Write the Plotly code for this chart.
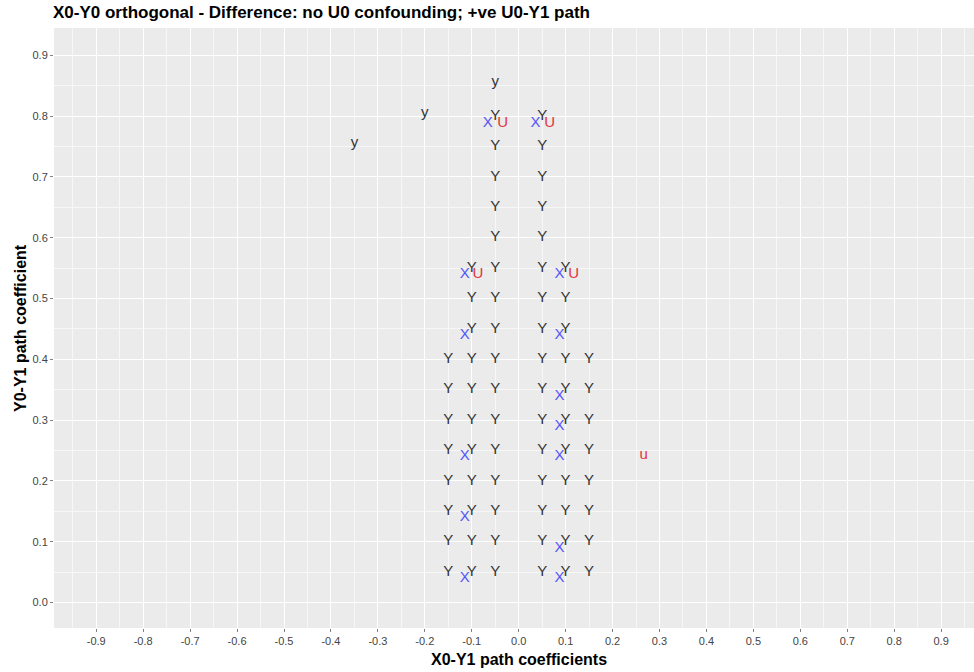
import plotly.graph_objects as go

# ---- data -------------------------------------------------------------
# Capital "Y" marks, laid out as rows (y level) with the x columns present in each row
ROW_LEVELS = [0.05, 0.10, 0.15, 0.20, 0.25, 0.30, 0.35, 0.40,
              0.45, 0.50, 0.55,
              0.60, 0.65, 0.70, 0.75, 0.80]
WIDE_COLS = [-0.15, -0.10, -0.05, 0.05, 0.10, 0.15]
MID_COLS = [-0.10, -0.05, 0.05, 0.10]
NARROW_COLS = [-0.05, 0.05]
ROW_COLUMNS = [WIDE_COLS] * 8 + [MID_COLS] * 3 + [NARROW_COLS] * 5

# Lowercase "y" marks
small_y_x = [-0.35, -0.20, -0.05]
small_y_y = [0.755, 0.805, 0.855]

# Blue "X" marks
x_mark_x = [-0.066, 0.036, -0.115, 0.087, -0.115, 0.087, 0.087,
            0.087, -0.115, 0.087, -0.115, 0.087, -0.115, 0.087]
x_mark_y = [0.788, 0.788, 0.540, 0.540, 0.440, 0.440, 0.340,
            0.290, 0.240, 0.240, 0.140, 0.090, 0.040, 0.040]

# Red "U" marks
u_mark_x = [-0.034, 0.066, -0.087, 0.117]
u_mark_y = [0.788, 0.788, 0.540, 0.540]

# Lowercase red "u"
small_u_x = [0.266]
small_u_y = [0.242]

# Axis ticks
x_tick_vals = [-0.9, -0.8, -0.7, -0.6, -0.5, -0.4, -0.3, -0.2, -0.1, 0.0,
               0.1, 0.2, 0.3, 0.4, 0.5, 0.6, 0.7, 0.8, 0.9]
x_tick_text = ["-0.9", "-0.8", "-0.7", "-0.6", "-0.5", "-0.4", "-0.3", "-0.2", "-0.1", "0.0",
               "0.1", "0.2", "0.3", "0.4", "0.5", "0.6", "0.7", "0.8", "0.9"]
y_tick_vals = [0.0, 0.1, 0.2, 0.3, 0.4, 0.5, 0.6, 0.7, 0.8, 0.9]
y_tick_text = ["0.0", "0.1", "0.2", "0.3", "0.4", "0.5", "0.6", "0.7", "0.8", "0.9"]

# ---- build point table for the capital Y marks ------------------------
big_y_x, big_y_y = [], []
for level, cols in zip(ROW_LEVELS, ROW_COLUMNS):
    for c in cols:
        big_y_x.append(c)
        big_y_y.append(level)

FONT = "Liberation Sans, Arial, sans-serif"
TXT = 15


def text_trace(xs, ys, label, color, size=TXT):
    return go.Scatter(
        x=xs, y=ys, mode="text", text=[label] * len(xs),
        textposition="middle center",
        textfont=dict(family=FONT, size=size, color=color),
        hoverinfo="skip", showlegend=False, cliponaxis=False,
    )


fig = go.Figure()
fig.add_trace(text_trace(big_y_x, big_y_y, "Y", "#353535"))
fig.add_trace(text_trace(small_y_x, small_y_y, "y", "#353535"))
fig.add_trace(text_trace(x_mark_x, x_mark_y, "X", "#5656f8"))
fig.add_trace(text_trace(u_mark_x, u_mark_y, "U", "#e3343c"))
fig.add_trace(text_trace(small_u_x, small_u_y, "u", "#e3343c"))

axis_common = dict(
    showgrid=True, gridcolor="white", gridwidth=1.2,
    zeroline=False, showline=False,
    ticks="outside", ticklen=3, tickwidth=1, tickcolor="#7f7f7f",
    tickfont=dict(family=FONT, size=11, color="#444444"),
    minor=dict(showgrid=True, gridcolor="#f7f7f7", gridwidth=0.6, dtick=0.05, tick0=0.05),
)

fig.update_layout(
    width=974, height=672,
    margin=dict(l=54, r=0, t=28, b=44),
    paper_bgcolor="white", plot_bgcolor="#ebebeb",
    font=dict(family=FONT),
    title=dict(text="<b>X0-Y0 orthogonal - Difference: no U0 confounding; +ve U0-Y1 path</b>",
               xref="container", yref="container", x=53 / 974, y=1 - 12 / 672,
               xanchor="left", yanchor="middle",
               font=dict(family=FONT, size=17, color="black")),
    xaxis=dict(range=[-0.99, 0.97], tickmode="array",
               tickvals=x_tick_vals, ticktext=x_tick_text, **axis_common),
    yaxis=dict(range=[-0.042, 0.945], tickmode="array",
               tickvals=y_tick_vals, ticktext=y_tick_text, **axis_common),
    annotations=[
        dict(text="<b>X0-Y1 path coefficients</b>",
             xref="paper", yref="paper", x=(519 - 54) / 920, y=-32 / 600,
             xanchor="center", yanchor="middle", showarrow=False,
             font=dict(family=FONT, size=16, color="black")),
        dict(text="<b>Y0-Y1 path coefficient</b>",
             xref="paper", yref="paper", x=-34 / 920, y=0.5, textangle=-90,
             xanchor="center", yanchor="middle", showarrow=False,
             font=dict(family=FONT, size=16, color="black")),
    ],
)

fig.write_html("out.html")
